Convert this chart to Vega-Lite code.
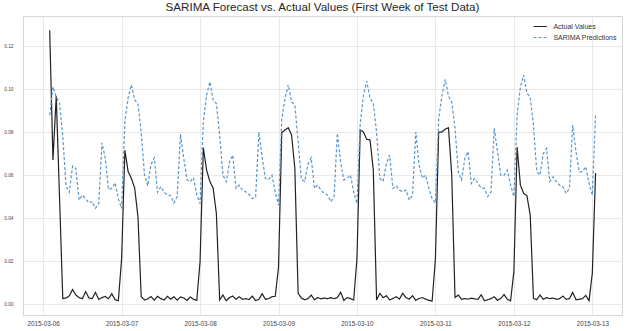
{
"$schema": "https://vega.github.io/schema/vega-lite/v6.json",
"width": 599, "height": 299,
"autosize": {"type": "none"},
"padding": {"left": 23, "top": 16, "right": 5, "bottom": 16},
"background": "white",
"title": {"text": "SARIMA Forecast vs. Actual Values (First Week of Test Data)", "fontSize": 11.6, "font": "Liberation Sans", "fontWeight": "normal", "color": "#262626", "offset": 2, "anchor": "middle"},
"data": {"values": [
{"t":"2015-03-06T02:00:00","Actual Values":0.1274,"SARIMA Predictions":0.0879},
{"t":"2015-03-06T03:00:00","Actual Values":0.067,"SARIMA Predictions":0.101},
{"t":"2015-03-06T04:00:00","Actual Values":0.0967,"SARIMA Predictions":0.0964},
{"t":"2015-03-06T05:00:00","Actual Values":0.05,"SARIMA Predictions":0.0933},
{"t":"2015-03-06T06:00:00","Actual Values":0.0026,"SARIMA Predictions":0.078},
{"t":"2015-03-06T07:00:00","Actual Values":0.0028,"SARIMA Predictions":0.055},
{"t":"2015-03-06T08:00:00","Actual Values":0.0038,"SARIMA Predictions":0.052},
{"t":"2015-03-06T09:00:00","Actual Values":0.0068,"SARIMA Predictions":0.0642},
{"t":"2015-03-06T10:00:00","Actual Values":0.0042,"SARIMA Predictions":0.063},
{"t":"2015-03-06T11:00:00","Actual Values":0.003,"SARIMA Predictions":0.0484},
{"t":"2015-03-06T12:00:00","Actual Values":0.0025,"SARIMA Predictions":0.0507},
{"t":"2015-03-06T13:00:00","Actual Values":0.0058,"SARIMA Predictions":0.049},
{"t":"2015-03-06T14:00:00","Actual Values":0.0028,"SARIMA Predictions":0.047},
{"t":"2015-03-06T15:00:00","Actual Values":0.0025,"SARIMA Predictions":0.0476},
{"t":"2015-03-06T16:00:00","Actual Values":0.0054,"SARIMA Predictions":0.0445},
{"t":"2015-03-06T17:00:00","Actual Values":0.0022,"SARIMA Predictions":0.0468},
{"t":"2015-03-06T18:00:00","Actual Values":0.003,"SARIMA Predictions":0.075},
{"t":"2015-03-06T19:00:00","Actual Values":0.0035,"SARIMA Predictions":0.068},
{"t":"2015-03-06T20:00:00","Actual Values":0.0025,"SARIMA Predictions":0.0533},
{"t":"2015-03-06T21:00:00","Actual Values":0.0048,"SARIMA Predictions":0.0538},
{"t":"2015-03-06T22:00:00","Actual Values":0.002,"SARIMA Predictions":0.0564},
{"t":"2015-03-06T23:00:00","Actual Values":0.0015,"SARIMA Predictions":0.049},
{"t":"2015-03-07T00:00:00","Actual Values":0.021,"SARIMA Predictions":0.0445},
{"t":"2015-03-07T01:00:00","Actual Values":0.0716,"SARIMA Predictions":0.085},
{"t":"2015-03-07T02:00:00","Actual Values":0.0616,"SARIMA Predictions":0.096},
{"t":"2015-03-07T03:00:00","Actual Values":0.0584,"SARIMA Predictions":0.102},
{"t":"2015-03-07T04:00:00","Actual Values":0.054,"SARIMA Predictions":0.095},
{"t":"2015-03-07T05:00:00","Actual Values":0.0406,"SARIMA Predictions":0.093},
{"t":"2015-03-07T06:00:00","Actual Values":0.0034,"SARIMA Predictions":0.08},
{"t":"2015-03-07T07:00:00","Actual Values":0.0019,"SARIMA Predictions":0.06},
{"t":"2015-03-07T08:00:00","Actual Values":0.0024,"SARIMA Predictions":0.055},
{"t":"2015-03-07T09:00:00","Actual Values":0.0035,"SARIMA Predictions":0.065},
{"t":"2015-03-07T10:00:00","Actual Values":0.0018,"SARIMA Predictions":0.068},
{"t":"2015-03-07T11:00:00","Actual Values":0.0036,"SARIMA Predictions":0.052},
{"t":"2015-03-07T12:00:00","Actual Values":0.0025,"SARIMA Predictions":0.0546},
{"t":"2015-03-07T13:00:00","Actual Values":0.0019,"SARIMA Predictions":0.052},
{"t":"2015-03-07T14:00:00","Actual Values":0.0036,"SARIMA Predictions":0.0507},
{"t":"2015-03-07T15:00:00","Actual Values":0.0022,"SARIMA Predictions":0.0505},
{"t":"2015-03-07T16:00:00","Actual Values":0.0034,"SARIMA Predictions":0.047},
{"t":"2015-03-07T17:00:00","Actual Values":0.0018,"SARIMA Predictions":0.05},
{"t":"2015-03-07T18:00:00","Actual Values":0.0033,"SARIMA Predictions":0.079},
{"t":"2015-03-07T19:00:00","Actual Values":0.0028,"SARIMA Predictions":0.068},
{"t":"2015-03-07T20:00:00","Actual Values":0.0017,"SARIMA Predictions":0.0577},
{"t":"2015-03-07T21:00:00","Actual Values":0.0033,"SARIMA Predictions":0.057},
{"t":"2015-03-07T22:00:00","Actual Values":0.0022,"SARIMA Predictions":0.0588},
{"t":"2015-03-07T23:00:00","Actual Values":0.0018,"SARIMA Predictions":0.0507},
{"t":"2015-03-08T00:00:00","Actual Values":0.0197,"SARIMA Predictions":0.0468},
{"t":"2015-03-08T01:00:00","Actual Values":0.0727,"SARIMA Predictions":0.0848},
{"t":"2015-03-08T02:00:00","Actual Values":0.0623,"SARIMA Predictions":0.0972},
{"t":"2015-03-08T03:00:00","Actual Values":0.057,"SARIMA Predictions":0.1034},
{"t":"2015-03-08T04:00:00","Actual Values":0.054,"SARIMA Predictions":0.0949},
{"t":"2015-03-08T05:00:00","Actual Values":0.042,"SARIMA Predictions":0.0933},
{"t":"2015-03-08T06:00:00","Actual Values":0.0019,"SARIMA Predictions":0.0786},
{"t":"2015-03-08T07:00:00","Actual Values":0.0042,"SARIMA Predictions":0.06},
{"t":"2015-03-08T08:00:00","Actual Values":0.0015,"SARIMA Predictions":0.0569},
{"t":"2015-03-08T09:00:00","Actual Values":0.003,"SARIMA Predictions":0.066},
{"t":"2015-03-08T10:00:00","Actual Values":0.0037,"SARIMA Predictions":0.0693},
{"t":"2015-03-08T11:00:00","Actual Values":0.0022,"SARIMA Predictions":0.0538},
{"t":"2015-03-08T12:00:00","Actual Values":0.0034,"SARIMA Predictions":0.0553},
{"t":"2015-03-08T13:00:00","Actual Values":0.0022,"SARIMA Predictions":0.053},
{"t":"2015-03-08T14:00:00","Actual Values":0.0025,"SARIMA Predictions":0.0522},
{"t":"2015-03-08T15:00:00","Actual Values":0.0021,"SARIMA Predictions":0.051},
{"t":"2015-03-08T16:00:00","Actual Values":0.0037,"SARIMA Predictions":0.049},
{"t":"2015-03-08T17:00:00","Actual Values":0.0016,"SARIMA Predictions":0.05},
{"t":"2015-03-08T18:00:00","Actual Values":0.0022,"SARIMA Predictions":0.08},
{"t":"2015-03-08T19:00:00","Actual Values":0.0048,"SARIMA Predictions":0.068},
{"t":"2015-03-08T20:00:00","Actual Values":0.0022,"SARIMA Predictions":0.0584},
{"t":"2015-03-08T21:00:00","Actual Values":0.0025,"SARIMA Predictions":0.058},
{"t":"2015-03-08T22:00:00","Actual Values":0.0034,"SARIMA Predictions":0.06},
{"t":"2015-03-08T23:00:00","Actual Values":0.0036,"SARIMA Predictions":0.052},
{"t":"2015-03-09T00:00:00","Actual Values":0.017,"SARIMA Predictions":0.046},
{"t":"2015-03-09T01:00:00","Actual Values":0.0798,"SARIMA Predictions":0.086},
{"t":"2015-03-09T02:00:00","Actual Values":0.081,"SARIMA Predictions":0.0957},
{"t":"2015-03-09T03:00:00","Actual Values":0.082,"SARIMA Predictions":0.102},
{"t":"2015-03-09T04:00:00","Actual Values":0.0786,"SARIMA Predictions":0.094},
{"t":"2015-03-09T05:00:00","Actual Values":0.063,"SARIMA Predictions":0.0926},
{"t":"2015-03-09T06:00:00","Actual Values":0.005,"SARIMA Predictions":0.0755},
{"t":"2015-03-09T07:00:00","Actual Values":0.0028,"SARIMA Predictions":0.058},
{"t":"2015-03-09T08:00:00","Actual Values":0.002,"SARIMA Predictions":0.057},
{"t":"2015-03-09T09:00:00","Actual Values":0.0025,"SARIMA Predictions":0.065},
{"t":"2015-03-09T10:00:00","Actual Values":0.0042,"SARIMA Predictions":0.068},
{"t":"2015-03-09T11:00:00","Actual Values":0.002,"SARIMA Predictions":0.0538},
{"t":"2015-03-09T12:00:00","Actual Values":0.003,"SARIMA Predictions":0.0553},
{"t":"2015-03-09T13:00:00","Actual Values":0.0024,"SARIMA Predictions":0.053},
{"t":"2015-03-09T14:00:00","Actual Values":0.0028,"SARIMA Predictions":0.0515},
{"t":"2015-03-09T15:00:00","Actual Values":0.0025,"SARIMA Predictions":0.0507},
{"t":"2015-03-09T16:00:00","Actual Values":0.003,"SARIMA Predictions":0.0476},
{"t":"2015-03-09T17:00:00","Actual Values":0.0025,"SARIMA Predictions":0.05},
{"t":"2015-03-09T18:00:00","Actual Values":0.003,"SARIMA Predictions":0.0794},
{"t":"2015-03-09T19:00:00","Actual Values":0.0055,"SARIMA Predictions":0.066},
{"t":"2015-03-09T20:00:00","Actual Values":0.0017,"SARIMA Predictions":0.0577},
{"t":"2015-03-09T21:00:00","Actual Values":0.003,"SARIMA Predictions":0.0585},
{"t":"2015-03-09T22:00:00","Actual Values":0.0025,"SARIMA Predictions":0.06},
{"t":"2015-03-09T23:00:00","Actual Values":0.0019,"SARIMA Predictions":0.0522},
{"t":"2015-03-10T00:00:00","Actual Values":0.021,"SARIMA Predictions":0.0468},
{"t":"2015-03-10T01:00:00","Actual Values":0.081,"SARIMA Predictions":0.084},
{"t":"2015-03-10T02:00:00","Actual Values":0.08,"SARIMA Predictions":0.0972},
{"t":"2015-03-10T03:00:00","Actual Values":0.0766,"SARIMA Predictions":0.1037},
{"t":"2015-03-10T04:00:00","Actual Values":0.0763,"SARIMA Predictions":0.0957},
{"t":"2015-03-10T05:00:00","Actual Values":0.0623,"SARIMA Predictions":0.0933},
{"t":"2015-03-10T06:00:00","Actual Values":0.0019,"SARIMA Predictions":0.08},
{"t":"2015-03-10T07:00:00","Actual Values":0.005,"SARIMA Predictions":0.0585},
{"t":"2015-03-10T08:00:00","Actual Values":0.003,"SARIMA Predictions":0.057},
{"t":"2015-03-10T09:00:00","Actual Values":0.0039,"SARIMA Predictions":0.0654},
{"t":"2015-03-10T10:00:00","Actual Values":0.0019,"SARIMA Predictions":0.0693},
{"t":"2015-03-10T11:00:00","Actual Values":0.0026,"SARIMA Predictions":0.0538},
{"t":"2015-03-10T12:00:00","Actual Values":0.0034,"SARIMA Predictions":0.055},
{"t":"2015-03-10T13:00:00","Actual Values":0.0023,"SARIMA Predictions":0.053},
{"t":"2015-03-10T14:00:00","Actual Values":0.005,"SARIMA Predictions":0.0522},
{"t":"2015-03-10T15:00:00","Actual Values":0.003,"SARIMA Predictions":0.053},
{"t":"2015-03-10T16:00:00","Actual Values":0.0023,"SARIMA Predictions":0.0484},
{"t":"2015-03-10T17:00:00","Actual Values":0.0039,"SARIMA Predictions":0.0507},
{"t":"2015-03-10T18:00:00","Actual Values":0.0017,"SARIMA Predictions":0.08},
{"t":"2015-03-10T19:00:00","Actual Values":0.0026,"SARIMA Predictions":0.0647},
{"t":"2015-03-10T20:00:00","Actual Values":0.003,"SARIMA Predictions":0.0585},
{"t":"2015-03-10T21:00:00","Actual Values":0.0023,"SARIMA Predictions":0.06},
{"t":"2015-03-10T22:00:00","Actual Values":0.0017,"SARIMA Predictions":0.0538},
{"t":"2015-03-10T23:00:00","Actual Values":0.0014,"SARIMA Predictions":0.049},
{"t":"2015-03-11T00:00:00","Actual Values":0.021,"SARIMA Predictions":0.047},
{"t":"2015-03-11T01:00:00","Actual Values":0.08,"SARIMA Predictions":0.086},
{"t":"2015-03-11T02:00:00","Actual Values":0.08,"SARIMA Predictions":0.097},
{"t":"2015-03-11T03:00:00","Actual Values":0.0814,"SARIMA Predictions":0.1045},
{"t":"2015-03-11T04:00:00","Actual Values":0.082,"SARIMA Predictions":0.0967},
{"t":"2015-03-11T05:00:00","Actual Values":0.06,"SARIMA Predictions":0.094},
{"t":"2015-03-11T06:00:00","Actual Values":0.003,"SARIMA Predictions":0.0817},
{"t":"2015-03-11T07:00:00","Actual Values":0.0042,"SARIMA Predictions":0.0615},
{"t":"2015-03-11T08:00:00","Actual Values":0.0022,"SARIMA Predictions":0.0577},
{"t":"2015-03-11T09:00:00","Actual Values":0.0025,"SARIMA Predictions":0.0678},
{"t":"2015-03-11T10:00:00","Actual Values":0.0023,"SARIMA Predictions":0.0709},
{"t":"2015-03-11T11:00:00","Actual Values":0.0027,"SARIMA Predictions":0.0561},
{"t":"2015-03-11T12:00:00","Actual Values":0.0024,"SARIMA Predictions":0.0584},
{"t":"2015-03-11T13:00:00","Actual Values":0.0022,"SARIMA Predictions":0.0561},
{"t":"2015-03-11T14:00:00","Actual Values":0.0043,"SARIMA Predictions":0.0541},
{"t":"2015-03-11T15:00:00","Actual Values":0.0015,"SARIMA Predictions":0.0538},
{"t":"2015-03-11T16:00:00","Actual Values":0.002,"SARIMA Predictions":0.05},
{"t":"2015-03-11T17:00:00","Actual Values":0.0025,"SARIMA Predictions":0.0522},
{"t":"2015-03-11T18:00:00","Actual Values":0.0034,"SARIMA Predictions":0.0817},
{"t":"2015-03-11T19:00:00","Actual Values":0.0017,"SARIMA Predictions":0.0709},
{"t":"2015-03-11T20:00:00","Actual Values":0.0027,"SARIMA Predictions":0.06},
{"t":"2015-03-11T21:00:00","Actual Values":0.0044,"SARIMA Predictions":0.06},
{"t":"2015-03-11T22:00:00","Actual Values":0.0022,"SARIMA Predictions":0.0623},
{"t":"2015-03-11T23:00:00","Actual Values":0.0015,"SARIMA Predictions":0.0553},
{"t":"2015-03-12T00:00:00","Actual Values":0.015,"SARIMA Predictions":0.05},
{"t":"2015-03-12T01:00:00","Actual Values":0.073,"SARIMA Predictions":0.088},
{"t":"2015-03-12T02:00:00","Actual Values":0.0553,"SARIMA Predictions":0.101},
{"t":"2015-03-12T03:00:00","Actual Values":0.0515,"SARIMA Predictions":0.1065},
{"t":"2015-03-12T04:00:00","Actual Values":0.0504,"SARIMA Predictions":0.098},
{"t":"2015-03-12T05:00:00","Actual Values":0.0414,"SARIMA Predictions":0.0964},
{"t":"2015-03-12T06:00:00","Actual Values":0.0026,"SARIMA Predictions":0.0833},
{"t":"2015-03-12T07:00:00","Actual Values":0.002,"SARIMA Predictions":0.0615},
{"t":"2015-03-12T08:00:00","Actual Values":0.0042,"SARIMA Predictions":0.06},
{"t":"2015-03-12T09:00:00","Actual Values":0.0022,"SARIMA Predictions":0.07},
{"t":"2015-03-12T10:00:00","Actual Values":0.003,"SARIMA Predictions":0.0724},
{"t":"2015-03-12T11:00:00","Actual Values":0.0025,"SARIMA Predictions":0.0569},
{"t":"2015-03-12T12:00:00","Actual Values":0.0028,"SARIMA Predictions":0.0592},
{"t":"2015-03-12T13:00:00","Actual Values":0.0022,"SARIMA Predictions":0.0569},
{"t":"2015-03-12T14:00:00","Actual Values":0.0025,"SARIMA Predictions":0.0553},
{"t":"2015-03-12T15:00:00","Actual Values":0.0037,"SARIMA Predictions":0.0546},
{"t":"2015-03-12T16:00:00","Actual Values":0.0022,"SARIMA Predictions":0.0515},
{"t":"2015-03-12T17:00:00","Actual Values":0.0025,"SARIMA Predictions":0.0538},
{"t":"2015-03-12T18:00:00","Actual Values":0.0054,"SARIMA Predictions":0.0833},
{"t":"2015-03-12T19:00:00","Actual Values":0.002,"SARIMA Predictions":0.0709},
{"t":"2015-03-12T20:00:00","Actual Values":0.0022,"SARIMA Predictions":0.0615},
{"t":"2015-03-12T21:00:00","Actual Values":0.0025,"SARIMA Predictions":0.0615},
{"t":"2015-03-12T22:00:00","Actual Values":0.004,"SARIMA Predictions":0.0639},
{"t":"2015-03-12T23:00:00","Actual Values":0.0015,"SARIMA Predictions":0.0561},
{"t":"2015-03-13T00:00:00","Actual Values":0.0143,"SARIMA Predictions":0.0507},
{"t":"2015-03-13T01:00:00","Actual Values":0.061,"SARIMA Predictions":0.0887}
]},
"transform": [{"fold": ["Actual Values", "SARIMA Predictions"], "as": ["series", "value"]}],
"mark": {"type": "line", "strokeWidth": 1.2, "clip": true},
"encoding": {
  "x": {"field": "t", "type": "temporal",
        "scale": {"domain": [{"year": 2015, "month": 3, "date": 5, "hours": 17, "minutes": 50}, {"year": 2015, "month": 3, "date": 13, "hours": 9, "minutes": 5}]},
        "axis": {"title": null, "format": "%Y-%m-%d", "tickCount": {"interval": "day", "step": 1}, "labelFontSize": 6.3, "labelPadding": 5, "ticks": false, "domain": false, "labelFlush": false, "labelOverlap": false}},
  "y": {"field": "value", "type": "quantitative",
        "scale": {"domain": [-0.0051, 0.134], "nice": false, "zero": false},
        "axis": {"title": null, "values": [0, 0.02, 0.04, 0.06, 0.08, 0.1, 0.12], "format": ".2f", "labelFontSize": 4.8, "labelPadding": 10, "ticks": false, "domain": false}},
  "color": {"field": "series", "type": "nominal",
            "scale": {"domain": ["Actual Values", "SARIMA Predictions"], "range": ["#222222", "#5b96c9"]},
            "legend": {"title": null}},
  "strokeDash": {"field": "series", "type": "nominal",
            "scale": {"domain": ["Actual Values", "SARIMA Predictions"], "range": [[1, 0], [3, 2]]},
            "legend": {"title": null}}
},
"config": {
  "view": {"stroke": "#d6d6d6", "strokeWidth": 1},
  "axis": {"gridColor": "#e6e6e6", "gridWidth": 0.9, "labelColor": "#444444", "labelFont": "Liberation Sans"},
  "legend": {"orient": "none", "legendX": 509.7, "legendY": 3, "padding": 0, "labelFontSize": 7, "labelFont": "Liberation Sans", "labelColor": "#333333", "symbolType": "stroke", "symbolSize": 177, "symbolStrokeWidth": 1.2, "labelOffset": 5.7, "rowPadding": -3.3}
}
}
